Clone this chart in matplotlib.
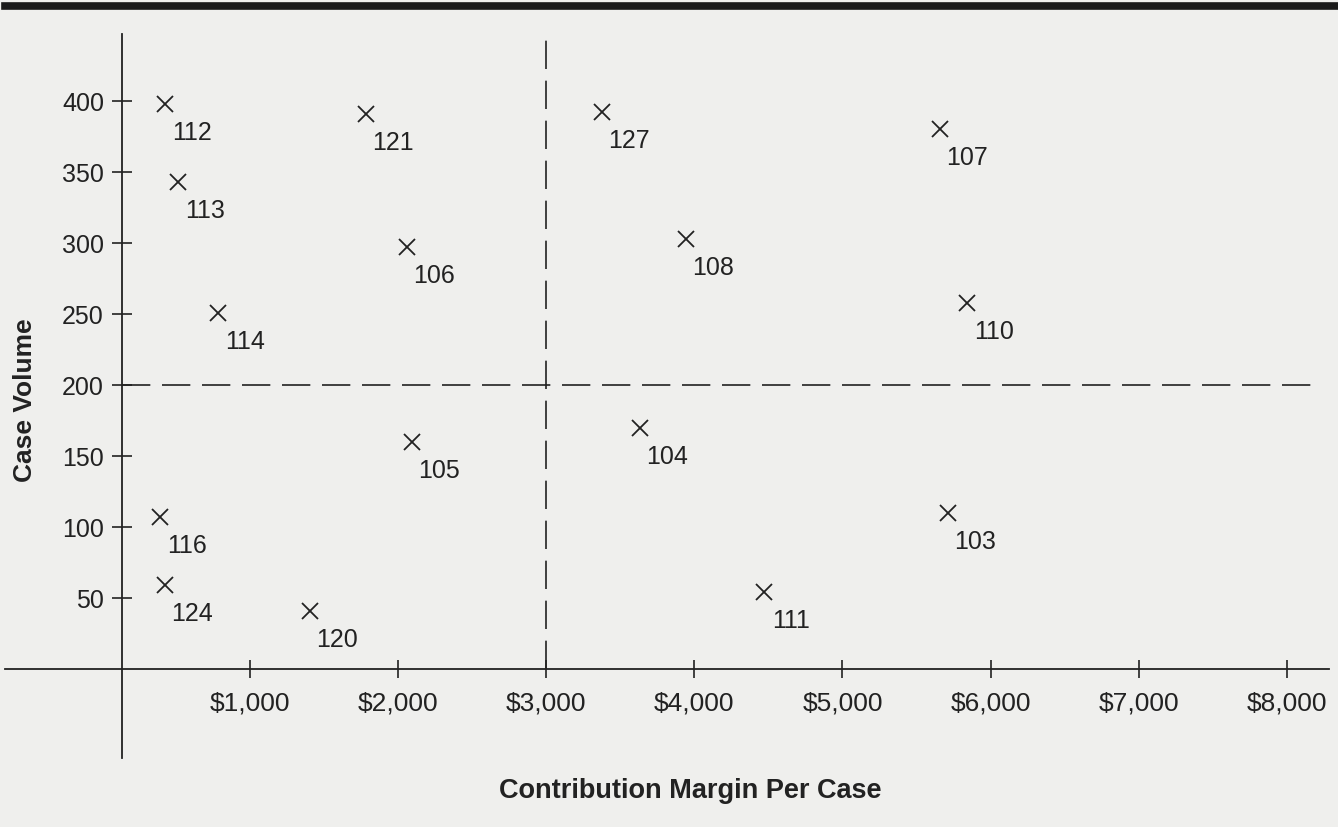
import matplotlib
matplotlib.use("Agg")
from matplotlib import pyplot as plt
from matplotlib.lines import Line2D

plt.rcParams['font.family'] = ['Liberation Sans', 'DejaVu Sans']

# products: contribution margin per case ($) and case volume
products = ['112', '121', '127', '107', '113', '106', '108', '114',
            '110', '105', '104', '116', '103', '124', '120', '111']
margin = [425, 1783, 3376, 5658, 513, 2059, 3943, 783,
          5841, 2093, 3633, 392, 5712, 425, 1404, 4470]
volume = [398, 391, 392, 380, 343, 297, 303, 251,
          258, 160, 170, 107, 110, 59, 41, 54]

xticks = [1000, 2000, 3000, 4000, 5000, 6000, 7000, 8000]
xtick_labels = ['$1,000', '$2,000', '$3,000', '$4,000',
                '$5,000', '$6,000', '$7,000', '$8,000']
yticks = [50, 100, 150, 200, 250, 300, 350, 400]

margin_cut = 3000
volume_cut = 200

ink = '#222222'
paper = '#efefed'

fig = plt.figure(figsize=(13.38, 8.28), dpi=100, facecolor=paper)
ax = fig.add_axes([0, 0, 1, 1])
ax.set_facecolor(paper)
ax.set_xlim(-689, 8346)
ax.set_ylim(-111.3, 471.8)

for s in ['top', 'right']:
    ax.spines[s].set_visible(False)
ax.spines['left'].set_position(('data', 135))
ax.spines['left'].set_bounds(-63, 447)
ax.spines['bottom'].set_position(('data', 0))
ax.spines['bottom'].set_bounds(-655, 8285)
for s in ['left', 'bottom']:
    ax.spines[s].set_color(ink)
    ax.spines[s].set_linewidth(1.3)

ax.set_xticks(xticks)
ax.set_xticklabels(xtick_labels)
ax.set_yticks(yticks)
ax.tick_params(axis='x', direction='inout', length=13, width=1.2, color=ink,
               labelsize=19, labelcolor=ink, pad=9)
ax.tick_params(axis='y', direction='inout', length=14, width=1.2, color=ink,
               labelsize=18, labelcolor=ink, pad=6)

# quadrant lines
ax.hlines(volume_cut, 135, 8240, colors=ink, linewidth=1.2,
          linestyles=(0, (17, 7)))
ax.vlines(margin_cut, 0, 447, colors=ink, linewidth=1.2,
          linestyles=(0, (17, 7)))

ax.plot(margin, volume, linestyle='none', marker='x', markersize=12,
        markeredgewidth=1.3, color=ink)
for name, mx, vy in zip(products, margin, volume):
    ax.annotate(name, (mx, vy), xytext=(27, -28), textcoords='offset pixels',
                ha='center', va='center', fontsize=18, color=ink)

ax.set_xlabel('Contribution Margin Per Case', fontsize=19.5, fontweight='bold',
              color=ink)
ax.xaxis.set_label_coords(0.516, 0.060)
ax.set_ylabel('Case Volume', fontsize=19, fontweight='bold', color=ink)
ax.yaxis.set_label_coords(0.028, 0.517)

# thick rule at top of the page
fig.add_artist(Line2D([0.004, 1.0], [0.992, 0.992], color='#1a1a1a',
                      linewidth=5.5, transform=fig.transFigure))

fig.savefig('out.png', dpi=100, facecolor=paper)
